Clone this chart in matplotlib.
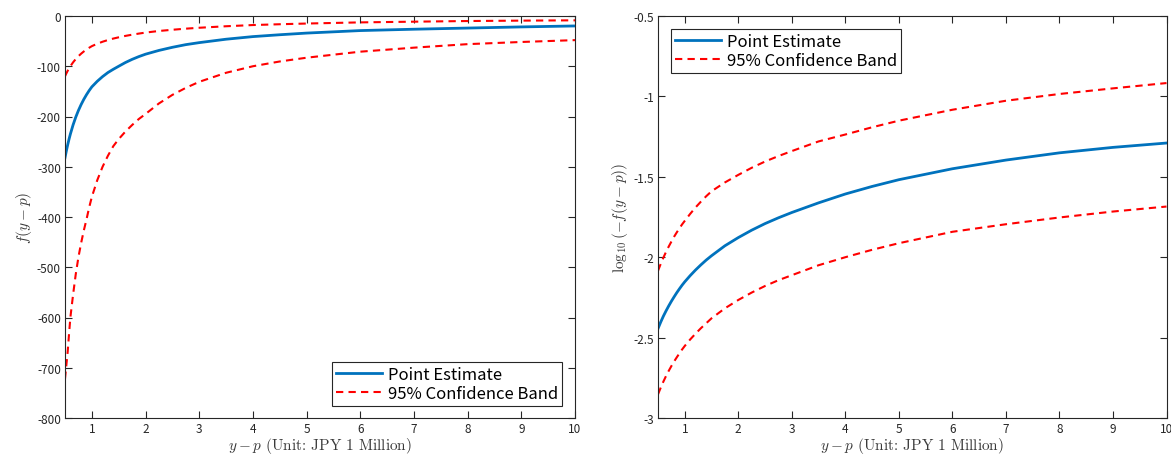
import matplotlib
matplotlib.use("Agg")
import matplotlib.pyplot as plt
from matplotlib.ticker import FixedLocator, FixedFormatter

# ---------------- data ----------------
x_left = [0.5, 0.525, 0.55, 0.575, 0.6, 0.65, 0.7, 0.75, 0.8, 0.85, 0.9, 0.95, 1.0, 1.1, 1.2, 1.3,
          1.4, 1.5, 1.625, 1.75, 1.875, 2, 2.25, 2.5, 2.75, 3, 3.5, 4, 4.5, 5, 6, 7, 8, 9, 10]
f_point = [-282, -268.6, -256.4, -245.2, -235, -216.9, -201.4, -188, -176.3, -165.9, -156.7, -148.4,
           -141, -130, -120.6, -112.5, -106, -100, -92.6, -86.3, -80.8, -76, -68.5, -62.3, -57,
           -53, -46.2, -41, -37.3, -34, -29, -26.3, -24, -21.7, -19.8]
f_upper = [-120, -114.3, -109, -104.3, -100, -92.3, -85.7, -80, -75, -70.6, -66.7, -63.2,
           -60, -55.2, -51.2, -47.8, -44.9, -42.4, -39.6, -37.2, -35, -33, -29.8, -27.4, -25.2,
           -23.4, -20.4, -18, -16.4, -15, -12.7, -11.3, -10, -9.2, -8.6]
f_lower = [-722, -695, -668, -633, -600, -555, -514, -480, -452, -427, -405, -381,
           -360, -327, -300, -278, -259, -245, -230, -217, -205, -195, -174, -157, -143,
           -131, -113, -100, -90.5, -83, -71, -63, -56, -51.7, -48]

x_right = [0.5, 0.55, 0.6, 0.65, 0.7, 0.75, 0.8, 0.85, 0.9, 0.95, 1.0, 1.1, 1.2, 1.3, 1.4, 1.5,
           1.75, 2, 2.25, 2.5, 2.75, 3, 3.5, 4, 4.5, 5, 6, 7, 8, 9, 10]
g_point = [-2.444, -2.404, -2.367, -2.334, -2.303, -2.274, -2.247, -2.221, -2.197, -2.174, -2.153,
           -2.115, -2.080, -2.048, -2.018, -1.991, -1.929, -1.878, -1.832, -1.791, -1.755, -1.722,
           -1.662, -1.607, -1.560, -1.518, -1.450, -1.396, -1.351, -1.317, -1.290]
g_upper = [-2.085, -2.042, -2.003, -1.967, -1.934, -1.903, -1.873, -1.846, -1.821, -1.796, -1.774,
           -1.731, -1.691, -1.655, -1.621, -1.590, -1.535, -1.488, -1.444, -1.405, -1.371, -1.340,
           -1.280, -1.237, -1.192, -1.151, -1.083, -1.027, -0.985, -0.950, -0.917]
g_lower = [-2.853, -2.812, -2.774, -2.739, -2.707, -2.677, -2.649, -2.623, -2.598, -2.574, -2.552,
           -2.512, -2.476, -2.442, -2.411, -2.380, -2.318, -2.266, -2.220, -2.179, -2.143, -2.112,
           -2.050, -2.000, -1.954, -1.913, -1.842, -1.795, -1.753, -1.716, -1.685]

x_ticks = [1, 2, 3, 4, 5, 6, 7, 8, 9, 10]
x_ticklabels = ["1", "2", "3", "4", "5", "6", "7", "8", "9", "10"]
yl_ticks = [-800, -700, -600, -500, -400, -300, -200, -100, 0]
yl_ticklabels = ["-800", "-700", "-600", "-500", "-400", "-300", "-200", "-100", "0"]
yr_ticks = [-3, -2.5, -2, -1.5, -1, -0.5]
yr_ticklabels = ["-3", "-2.5", "-2", "-1.5", "-1", "-0.5"]

legend_labels = ["Point Estimate", "95% Confidence Band"]
xlabel = r"$y-p$ (Unit: JPY 1 Million)"
ylabel_left = r"$f(y-p)$"
ylabel_right = r"$\log_{10}(-f(y-p))$"

# ---------------- style ----------------
plt.rcParams["font.family"] = ["Noto Sans CJK JP", "DejaVu Sans"]
plt.rcParams["mathtext.fontset"] = "cm"
plt.rcParams["axes.unicode_minus"] = False

BLUE = "#0072BD"
RED = "#FF0000"
AX_COL = "#262626"
LBL_COL = "#3a3a3a"
DASH = (0, (3.5, 2.5))

fig = plt.figure(figsize=(11.71, 4.56), dpi=100)
ax1 = fig.add_axes([65 / 1171, 37 / 456, 510 / 1171, 402 / 456])
ax2 = fig.add_axes([658 / 1171, 37 / 456, 508.5 / 1171, 402 / 456])


def style(ax, yticks, yticklabels, ylim, ylabel):
    ax.set_xlim(0.5, 10)
    ax.set_ylim(*ylim)
    ax.xaxis.set_major_locator(FixedLocator(x_ticks))
    ax.xaxis.set_major_formatter(FixedFormatter(x_ticklabels))
    ax.yaxis.set_major_locator(FixedLocator(yticks))
    ax.yaxis.set_major_formatter(FixedFormatter(yticklabels))
    ax.tick_params(direction="in", top=True, right=True, length=5, width=0.8,
                   colors=AX_COL, labelsize=8.5, pad=3)
    for s in ax.spines.values():
        s.set_color(AX_COL)
        s.set_linewidth(0.8)
    ax.set_xlabel(xlabel, fontsize=11, color=LBL_COL, labelpad=0, family=["cmr10"])
    ax.set_ylabel(ylabel, fontsize=11, color=LBL_COL, labelpad=2)


def legend(ax, loc, anchor):
    leg = ax.legend(loc=loc, bbox_to_anchor=anchor, fontsize=12, frameon=True,
                    fancybox=False, framealpha=1, edgecolor="#262626", handlelength=2.75,
                    handletextpad=0.35, borderpad=0.25, labelspacing=0.1, borderaxespad=0.0)
    leg.get_frame().set_linewidth(0.8)
    return leg


ax1.plot(x_left, f_point, color=BLUE, lw=2.0, label=legend_labels[0])
ax1.plot(x_left, f_upper, color=RED, lw=1.5, ls=DASH, label=legend_labels[1])
ax1.plot(x_left, f_lower, color=RED, lw=1.5, ls=DASH)
style(ax1, yl_ticks, yl_ticklabels, (-800, 0), ylabel_left)
legend(ax1, "lower right", (0.975, 0.03))

ax2.plot(x_right, g_point, color=BLUE, lw=2.0, label=legend_labels[0])
ax2.plot(x_right, g_upper, color=RED, lw=1.5, ls=DASH, label=legend_labels[1])
ax2.plot(x_right, g_lower, color=RED, lw=1.5, ls=DASH)
style(ax2, yr_ticks, yr_ticklabels, (-3, -0.5), ylabel_right)
legend(ax2, "upper left", (0.025, 0.968))

fig.savefig("out.png", dpi=100)
